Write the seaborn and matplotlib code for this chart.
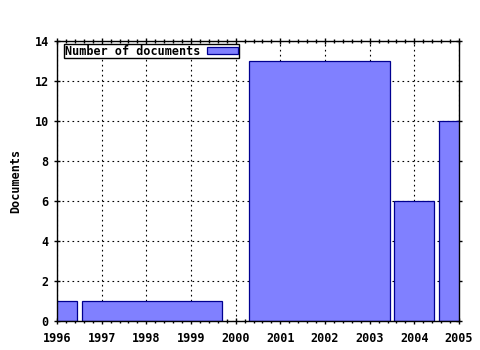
import matplotlib
matplotlib.use("Agg")
import matplotlib.pyplot as plt
import matplotlib.ticker as mticker
import seaborn as sns
import pandas as pd

# Data: each bar's interval (left/right edges in years) and its count
bar_left = [1995.55, 1996.55, 2000.30, 2003.55, 2004.55]
bar_right = [1996.45, 1999.70, 2003.45, 2004.45, 2005.45]
documents = [1, 1, 13, 6, 10]
x_ticks = [1996, 1997, 1998, 1999, 2000, 2001, 2002, 2003, 2004, 2005]
y_ticks = [0, 2, 4, 6, 8, 10, 12, 14]
series_label = "Number of documents"

centers = [(l + r) / 2 for l, r in zip(bar_left, bar_right)]
edges = []
for l, r in zip(bar_left, bar_right):
    edges += [l, r]
df = pd.DataFrame({"year": centers, "documents": documents})

sns.set_theme(style="white")
plt.rcParams["font.family"] = ["DejaVu Sans Mono", "DejaVu Sans"]
plt.rcParams["font.weight"] = "bold"
plt.rcParams["text.color"] = "black"
FS = 8.5

fig = plt.figure(figsize=(4.8, 3.5), dpi=100)
ax = fig.add_axes([57 / 480, 1 - 321 / 350, (459 - 57) / 480, (321 - 41) / 350])

sns.histplot(data=df, x="year", weights="documents", bins=edges, ax=ax,
             color="#8080ff", edgecolor="#000090", linewidth=0.9, alpha=1.0,
             label=series_label)
# remove zero-height gap bins
for p in list(ax.patches):
    if p.get_height() == 0:
        p.remove()

ax.set_xlim(1996, 2005)
ax.set_ylim(0, 14)
ax.set_xticks(x_ticks)
ax.set_yticks(y_ticks)
ax.xaxis.set_minor_locator(mticker.AutoMinorLocator(5))
ax.grid(True, which="major", color="black", linestyle=(0, (1.5, 3)), linewidth=0.8)
ax.set_axisbelow(True)
for s in ax.spines.values():
    s.set_color("black")
    s.set_linewidth(1.0)
ax.tick_params(axis="both", which="major", direction="inout", length=4, width=1,
               colors="black", labelsize=FS, top=True, right=True, bottom=True, left=True)
ax.tick_params(axis="x", which="major", pad=6)
ax.tick_params(axis="y", which="major", pad=4)
ax.tick_params(axis="x", which="minor", direction="inout", length=2.5, width=1,
               colors="black", top=True, bottom=True)
for lab in ax.get_xticklabels() + ax.get_yticklabels():
    lab.set_fontweight("bold")
ax.set_xlabel("")
ax.set_ylabel("Documents", fontsize=FS, fontweight="bold", color="black", labelpad=9)

leg = ax.legend(loc="upper left", bbox_to_anchor=(0.012, 0.997), fancybox=False,
                framealpha=1, edgecolor="black", borderpad=0.05, handlelength=2.6,
                handleheight=0.55, handletextpad=0.6, markerfirst=False, borderaxespad=0.2,
                labelcolor="black",
                prop={"family": "DejaVu Sans Mono", "weight": "bold", "size": FS})
leg.get_frame().set_linewidth(1.0)

fig.savefig("out.png", dpi=100, facecolor="white")
